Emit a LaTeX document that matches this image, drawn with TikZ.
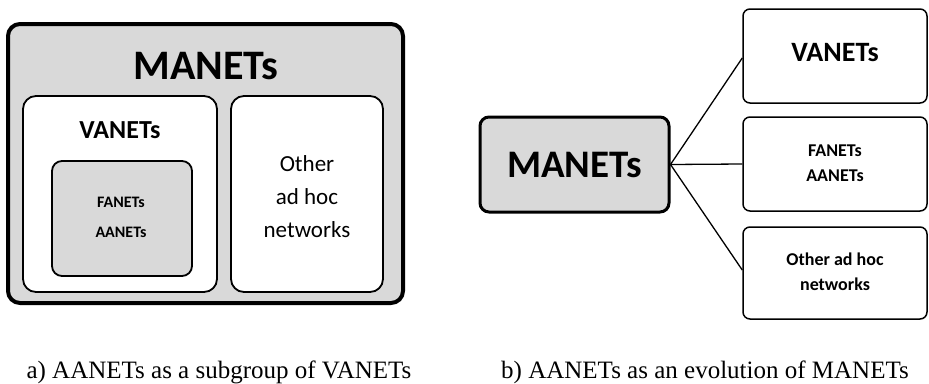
\documentclass[tikz,border=0pt]{standalone}
\usepackage{fontspec}
\setmainfont{Carlito}
\newfontfamily\capfont{Liberation Serif}
\definecolor{boxgray}{HTML}{D9D9D9}
\begin{document}
\begin{tikzpicture}[x=1pt,y=-1pt,
  thickbox/.style={draw=black,line width=4pt,fill=boxgray,rounded corners=12pt},
  whitebox/.style={draw=black,line width=1.8pt,fill=white,rounded corners=13pt},
  graybox/.style={draw=black,line width=1.8pt,fill=boxgray,rounded corners=10pt},
  rbox/.style={draw=black,line width=1.5pt,fill=white,rounded corners=7pt},
  mbox/.style={draw=black,line width=3pt,fill=boxgray,rounded corners=9pt},
  lbl/.style={inner sep=0pt,align=center},
  captext/.style={inner sep=0pt,anchor=base,font=\capfont\fontsize{25}{28}\selectfont},
  conn/.style={line width=1.3pt}]
\useasboundingbox (0,0) rectangle (929,383);
% left panel
\draw[thickbox] (8,24) rectangle (403,303);
\node[lbl,font=\fontsize{42}{46}\selectfont\bfseries] (tm) at (206,66) {MANETs};
\draw[whitebox] (23,96) rectangle (217,292);
\node[lbl,font=\fontsize{26}{30}\selectfont\bfseries] (tv) at (120,130) {VANETs};
\draw[graybox] (52,161) rectangle (192,276);
\node[lbl,font=\fontsize{16}{30}\selectfont\bfseries] (tf) at (121,217) {FANETs\\AANETs};
\draw[whitebox] (231,96) rectangle (383,292);
\node[lbl,font=\fontsize{23}{33}\selectfont] (to) at (307,197) {Other\\ad hoc\\networks};
% right panel
\node[mbox,minimum width=189pt,minimum height=95pt] (m) at (574.5,164.5) {};
\node[lbl,font=\fontsize{39}{44}\selectfont\bfseries] at (m) {MANETs};
\node[rbox,minimum width=184pt,minimum height=94pt] (v) at (835,56) {};
\node[lbl,font=\fontsize{28}{32}\selectfont\bfseries] at (835,53) {VANETs};
\node[rbox,minimum width=184pt,minimum height=94pt] (f) at (835,164) {};
\node[lbl,font=\fontsize{18}{25}\selectfont\bfseries] at (835,163) {FANETs\\AANETs};
\node[rbox,minimum width=184pt,minimum height=92pt] (o) at (835,273) {};
\node[lbl,font=\fontsize{18}{25}\selectfont\bfseries] at (835,272) {Other ad hoc\\networks};
\draw[conn] (m.east) -- (v.west |- 0,58);
\draw[conn] (m.east) -- (f.west);
\draw[conn] (m.east) -- (o.west |- 0,270);
% captions
\node[captext] (ca) at (219,378) {a) AANETs as a subgroup of VANETs};
\node[captext] (cb) at (705,378) {b) AANETs as an evolution of MANETs};
\end{tikzpicture}
\end{document}
